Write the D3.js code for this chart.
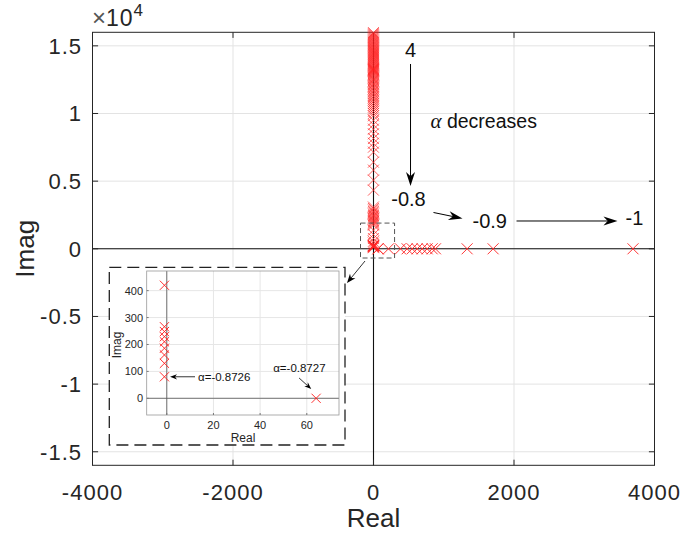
<!DOCTYPE html>
<html><head><meta charset="utf-8">
<script src="https://cdn.jsdelivr.net/npm/d3@7"></script>
<style>body{margin:0;background:#fff}svg{display:block}text{font-family:"Liberation Sans",Arial,sans-serif}</style>
</head><body>
<script>
// ---------- data ----------
const xTicks = [-4000, -2000, 0, 2000, 4000];
const yTicks = [-15000, -10000, -5000, 0, 5000, 10000, 15000];
const yTickLabels = ["-1.5", "-1", "-0.5", "0", "0.5", "1", "1.5"];
// poles on imaginary axis (real ~ -1)
const imagPoles = [15980,15900,15820,15740,15660,15590,15510,15430,15350,15280,15200,15120,15050,14970,14890,14820,14740,14660,14590,14510,14430,14360,14280,14200,14130,14050,13980,13900,13830,13750,13680,13600,13530,13450,13380,13320,13280,13240,13200,13160,13100,13020,12940,12860,12780,12690,12600,12510,12420,12330,12230,12130,12030,11930,11820,11710,11600,11490,11370,11250,11130,11000,10870,10740,10600,10460,10310,10160,10000,9830,9500,9170,8840,8500,8150,7800,7510,7140,6400,5815,5074,4335,3090,2980,2870,2760,2660,2560,2460,2370,2280,2190,2100,2010,1920,1840,1750,1380,1050,760,550];
// poles on real axis (imag = 0)
const realPoles = [64, 213, 384, 479, 550, 622, 693, 764, 835, 882, 1333, 1703, 3694];
// zoomed-in poles (inset)
const insetReal = [-1, -1, -1, -1, -1, -1, -1, -1, -1, 64];
const insetImag = [420, 266, 248, 229, 210, 186, 161, 130, 80, 0];
const insetXTicks = [0, 20, 40, 60];
const insetYTicks = [0, 100, 200, 300, 400];

// ---------- setup ----------
const W = 681, H = 535;
const svg = d3.select("body").append("svg").attr("width", W).attr("height", H);
const dark = "#262626";

const X = d3.scaleLinear().domain([-4000, 4000]).range([92.5, 654.5]);
const Y = d3.scaleLinear().domain([-16000, 16000]).range([465.3, 32.3]);

function arrowHead(g, x1, y1, x2, y2, len, hw) {
  const a = Math.atan2(y2 - y1, x2 - x1);
  const c = Math.cos(a), s = Math.sin(a);
  const pt = (u, v) => [x2 + u * c - v * s, y2 + u * s + v * c];
  const p = [pt(0, 0), pt(-len, hw), pt(-len * 0.7, 0), pt(-len, -hw)];
  g.append("path").attr("d", "M" + p.map(q => q.join(",")).join("L") + "Z").attr("fill", "#000");
}
function arrow(g, x1, y1, x2, y2, len, hw, sw) {
  const a = Math.atan2(y2 - y1, x2 - x1);
  g.append("line").attr("x1", x1).attr("y1", y1)
    .attr("x2", x2 - Math.cos(a) * len * 0.7).attr("y2", y2 - Math.sin(a) * len * 0.7)
    .attr("stroke", "#000").attr("stroke-width", sw);
  arrowHead(g, x1, y1, x2, y2, len, hw);
}
const cross = s => `M${-s},${-s}L${s},${s}M${-s},${s}L${s},${-s}`;

// ---------- main axes ----------
const main = svg.append("g");
const [x0, x1] = X.range(), [yb, yt] = Y.range();
main.selectAll(".gx").data(xTicks).join("line")
  .attr("x1", d => X(d)).attr("x2", d => X(d)).attr("y1", yt).attr("y2", yb)
  .attr("stroke", "#e3e3e3").attr("stroke-width", 1);
main.selectAll(".gy").data(yTicks).join("line")
  .attr("y1", d => Y(d)).attr("y2", d => Y(d)).attr("x1", x0).attr("x2", x1)
  .attr("stroke", "#e3e3e3").attr("stroke-width", 1);
main.append("line").attr("x1", X(0)).attr("x2", X(0)).attr("y1", yt).attr("y2", yb).attr("stroke", "#111").attr("stroke-width", 1.1);
main.append("line").attr("x1", x0).attr("x2", x1).attr("y1", Y(0)).attr("y2", Y(0)).attr("stroke", "#111").attr("stroke-width", 1.1);
main.append("rect").attr("x", x0).attr("y", yt).attr("width", x1 - x0).attr("height", yb - yt)
  .attr("fill", "none").attr("stroke", dark).attr("stroke-width", 1);
const tl = 5.6;
xTicks.forEach(d => {
  main.append("line").attr("x1", X(d)).attr("x2", X(d)).attr("y1", yb).attr("y2", yb - tl).attr("stroke", dark);
  main.append("line").attr("x1", X(d)).attr("x2", X(d)).attr("y1", yt).attr("y2", yt + tl).attr("stroke", dark);
});
yTicks.forEach(d => {
  main.append("line").attr("y1", Y(d)).attr("y2", Y(d)).attr("x1", x0).attr("x2", x0 + tl).attr("stroke", dark);
  main.append("line").attr("y1", Y(d)).attr("y2", Y(d)).attr("x1", x1).attr("x2", x1 - tl).attr("stroke", dark);
});
main.selectAll(".xl").data(xTicks).join("text")
  .attr("x", d => X(d)).attr("y", 499.5).attr("text-anchor", "middle")
  .attr("font-size", 22).attr("letter-spacing", 1).attr("fill", dark).text(d => d);
main.selectAll(".yl").data(yTicks).join("text")
  .attr("x", 82).attr("y", d => Y(d) + 8).attr("text-anchor", "end")
  .attr("font-size", 22).attr("letter-spacing", 1).attr("fill", dark).text((d, i) => yTickLabels[i]);
const ex = main.append("text").attr("x", 92).attr("y", 26).attr("font-size", 23).attr("fill", dark);
ex.append("tspan").attr("fill", "#555").attr("font-size", 24).text("×");
ex.append("tspan").attr("letter-spacing", 1).text("10");
ex.append("tspan").attr("font-size", 17).attr("dy", -10).text("4");
main.append("text").attr("x", X(0)).attr("y", 527).attr("text-anchor", "middle").attr("font-size", 26).attr("fill", dark).text("Real");
main.append("text").attr("transform", `translate(34,${Y(0)}) rotate(-90)`).attr("text-anchor", "middle").attr("font-size", 26).attr("fill", dark).text("Imag");

// poles
const poles = main.append("g").attr("stroke", "#ff2020").attr("stroke-width", 0.7).attr("fill", "none");
poles.selectAll(".pi").data(imagPoles).join("path").attr("d", cross(5.5))
  .attr("transform", d => `translate(${X(-1)},${Y(d)})`);
poles.selectAll(".pr").data(realPoles).join("path").attr("d", cross(5.5)).attr("stroke-width", 0.9)
  .attr("transform", d => `translate(${X(d)},${Y(0)})`);
poles.selectAll(".pz").data(insetImag).join("path").attr("d", cross(5.5))
  .attr("transform", (d, i) => `translate(${X(insetReal[i])},${Y(d)})`);

// small dashed zoom box
const zb = { x0: -185, x1: 300, y0: -680, y1: 1900 };
main.append("rect").attr("x", X(zb.x0)).attr("y", Y(zb.y1)).attr("width", X(zb.x1) - X(zb.x0)).attr("height", Y(zb.y0) - Y(zb.y1))
  .attr("fill", "none").attr("stroke", "#555").attr("stroke-width", 1).attr("stroke-dasharray", "5,3");

// annotations (data coords)
const ann = main.append("g");
const tx = (x, y, t, size, anchor) => ann.append("text").attr("x", X(x)).attr("y", Y(y)).attr("font-size", size).attr("text-anchor", anchor || "start").attr("fill", "#111").text(t);
tx(527, 14175, "4", 20, "middle");
tx(498, 3163, "-0.8", 20, "middle");
tx(1409, 1537, "-0.9", 20);
tx(3587, 1759, "-1", 20);
const ad = ann.append("text").attr("x", X(811)).attr("y", Y(8928)).attr("font-size", 19.5).attr("fill", "#111");
ad.append("tspan").attr("font-family", "'Liberation Serif','DejaVu Serif',serif").attr("font-style", "italic").attr("font-size", 21).text("α");
ad.append("tspan").text(" decreases");
arrow(ann, X(527), Y(13658), X(527), Y(4640), 14, 4.5, 1);
arrow(ann, X(854), Y(2683), X(1267), Y(2239), 14, 4.5, 1);
arrow(ann, X(2036), Y(2055), X(3473), Y(2055), 14, 4.5, 1);
arrow(ann, 365, 261, 347, 283, 9, 3.5, 0.8);

// ---------- inset ----------
const ins = svg.append("g");
ins.append("rect").attr("x", 109.3).attr("y", 267.3).attr("width", 235.7).attr("height", 177.7)
  .attr("fill", "#fff").attr("stroke", "#222").attr("stroke-width", 1.3).attr("stroke-dasharray", "12,6");
const IX = d3.scaleLinear().domain([-8.6, 73.8]).range([146.7, 339]);
const IY = d3.scaleLinear().domain([-62, 473]).range([415, 271]);
const [ix0, ix1] = IX.range(), [iyb, iyt] = IY.range();
ins.selectAll(".igx").data(insetXTicks).join("line")
  .attr("x1", d => IX(d)).attr("x2", d => IX(d)).attr("y1", iyt).attr("y2", iyb).attr("stroke", "#e6e6e6");
ins.selectAll(".igy").data(insetYTicks).join("line")
  .attr("y1", d => IY(d)).attr("y2", d => IY(d)).attr("x1", ix0).attr("x2", ix1).attr("stroke", "#e6e6e6");
ins.append("line").attr("x1", IX(0)).attr("x2", IX(0)).attr("y1", iyt).attr("y2", iyb).attr("stroke", "#555").attr("stroke-width", 0.8);
ins.append("line").attr("x1", ix0).attr("x2", ix1).attr("y1", IY(0)).attr("y2", IY(0)).attr("stroke", "#555").attr("stroke-width", 0.8);
ins.append("rect").attr("x", ix0).attr("y", iyt).attr("width", ix1 - ix0).attr("height", iyb - iyt)
  .attr("fill", "none").attr("stroke", "#999").attr("stroke-width", 0.8);
insetXTicks.forEach(d => {
  ins.append("line").attr("x1", IX(d)).attr("x2", IX(d)).attr("y1", iyb).attr("y2", iyb - 2).attr("stroke", "#777");
});
insetYTicks.forEach(d => {
  ins.append("line").attr("y1", IY(d)).attr("y2", IY(d)).attr("x1", ix0).attr("x2", ix0 + 2).attr("stroke", "#777");
});
ins.selectAll(".ixl").data(insetXTicks).join("text")
  .attr("x", d => IX(d)).attr("y", 429).attr("text-anchor", "middle").attr("font-size", 11).attr("fill", dark).text(d => d);
ins.selectAll(".iyl").data(insetYTicks).join("text")
  .attr("x", 143).attr("y", d => IY(d) + 4).attr("text-anchor", "end").attr("font-size", 11).attr("fill", dark).text(d => d);
ins.append("text").attr("x", 243).attr("y", 442).attr("text-anchor", "middle").attr("font-size", 12).attr("fill", dark).text("Real");
ins.append("text").attr("transform", `translate(120.5,345) rotate(-90)`).attr("text-anchor", "middle").attr("font-size", 12).attr("fill", dark).text("Imag");
ins.append("g").attr("stroke", "#ff1a1a").attr("stroke-width", 0.9).attr("fill", "none")
  .selectAll("path").data(insetImag).join("path").attr("d", cross(4.6))
  .attr("transform", (d, i) => `translate(${IX(insetReal[i])},${IY(d)})`);
ins.append("text").attr("x", IX(13.4)).attr("y", IY(64)).attr("font-size", 11.5).attr("fill", "#111").text("α=-0.8726");
ins.append("text").attr("x", IX(45.6)).attr("y", IY(98)).attr("font-size", 11.5).attr("fill", "#111").text("α=-0.8727");
arrow(ins, IX(12.1), IY(80), IX(1.4), IY(80), 7, 2.6, 0.8);
arrow(ins, IX(56.7), IY(75.5), IX(61.9), IY(34.6), 7, 2.6, 0.8);
</script>
</body></html>
